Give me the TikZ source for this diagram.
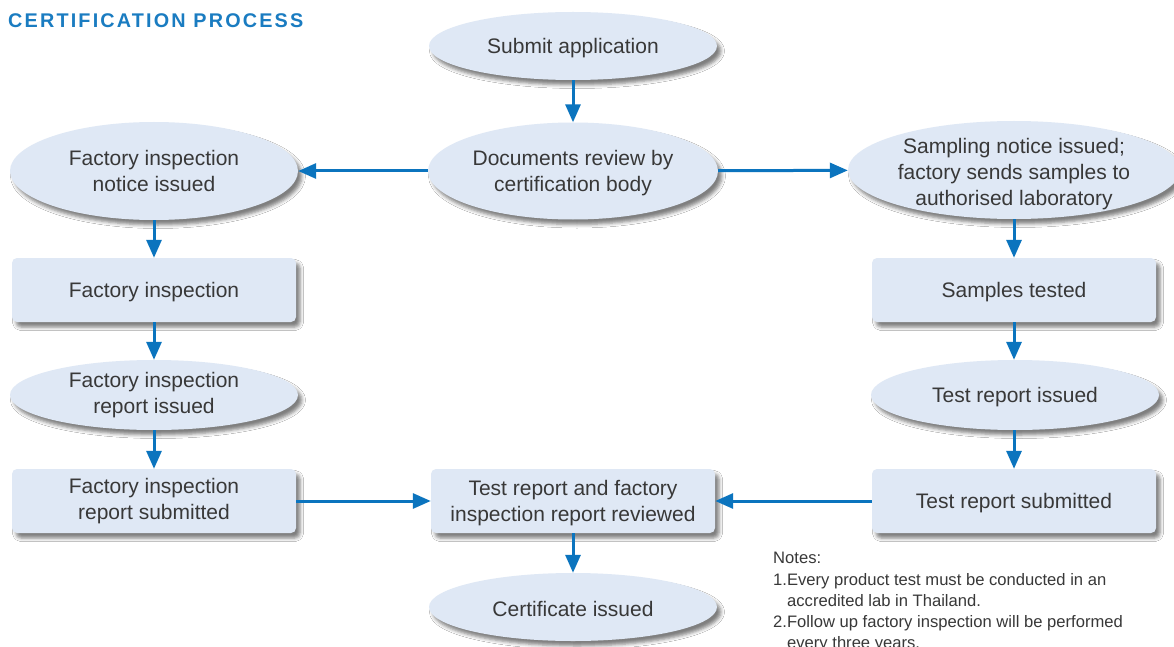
\documentclass[tikz,border=0pt]{standalone}
\usepackage{fontspec}
\setmainfont{Liberation Sans}
\usetikzlibrary{arrows.meta,shapes.geometric,shadows.blur}
\definecolor{boxfill}{HTML}{DFE8F5}
\definecolor{arrowblue}{HTML}{0B74BE}
\definecolor{titleblue}{HTML}{1A7CC1}
\definecolor{txt}{HTML}{383838}
\tikzset{
  shad/.style={blur shadow={shadow xshift=4pt,shadow yshift=-5pt,shadow blur radius=3.5pt,shadow opacity=50}},
  oval/.style={ellipse,fill=boxfill,shad,inner sep=0pt,minimum width=288pt,align=center,text=txt,font=\fontsize{21}{26}\selectfont,execute at begin node={\rule{0pt}{19.5pt}}},
  rbox/.style={rectangle,rounded corners=5pt,fill=boxfill,shad,inner sep=0pt,minimum width=284pt,minimum height=64pt,align=center,text=txt,font=\fontsize{21}{26}\selectfont,execute at begin node={\rule{0pt}{19.5pt}}},
  txtonly/.style={inner sep=0pt,align=center,text=txt,font=\fontsize{21}{26}\selectfont},
  arr/.style={draw=arrowblue,line width=3pt,-{Triangle[length=18pt,width=15pt]},arrowblue},
  note/.style={anchor=base west,inner sep=0pt,text=txt,font=\fontsize{16.6}{21}\selectfont},
}
\begin{document}
\begin{tikzpicture}[x=1pt,y=-1pt]
\clip (0,0) rectangle (1174,647);
\fill[white] (0,0) rectangle (1174,647);
\node[anchor=base west,inner sep=0pt,text=titleblue,font=\fontsize{19.8}{22}\selectfont\bfseries\addfontfeature{LetterSpace=11}] (title) at (8,27.5) {CERTIFICATION PROCESS};

\node[oval,minimum height=68pt] (sub) at (573,46) {Submit application};
\node[oval,minimum width=290pt,minimum height=97pt] (doc) at (573,171) {};
\node[txtonly] (doct) at ([yshift=-2pt]doc.center) {Documents review by\\certification body};
\node[oval,minimum height=98pt] (fin) at (154,171) {Factory inspection\\notice issued};
\node[oval,minimum width=332pt,minimum height=98pt] (san) at (1014,170) {};
\node[txtonly] (sant) at ([yshift=-4pt]san.center) {Sampling notice issued;\\factory sends samples to\\authorised laboratory};
\node[rbox] (fi) at (154,290) {Factory inspection};
\node[rbox] (st) at (1014,290) {Samples tested};
\node[oval,minimum height=70pt] (fir) at (154,395) {Factory inspection\\report issued};
\node[oval,minimum height=70pt] (tri) at (1015,395) {Test report issued};
\node[rbox] (fis) at (154,501) {Factory inspection\\report submitted};
\node[rbox] (trs) at (1014,501) {Test report submitted};
\node[rbox] (rev) at (573,501) {};
\node[txtonly] (revt) at ([yshift=-2.5pt]rev.center) {Test report and factory\\inspection report reviewed};
\node[oval,minimum height=68pt] (cert) at (573,607) {Certificate issued};

\draw[arr] (sub) -- (doc);
\draw[arr] (doc) -- (fin);
\draw[arr] (doc) -- (san);
\draw[arr] (fin) -- (fi);
\draw[arr] (fi) -- (fir);
\draw[arr] (fir) -- (fis);
\draw[arr] (san.south -| st.north) -- (st);
\draw[arr] (st) -- (tri.north -| st.north);
\draw[arr] (tri.south -| trs.north) -- (trs);
\draw[arr] (fis) -- (rev);
\draw[arr] (trs) -- (rev);
\draw[arr] (rev) -- (cert);

\node[note] (n0) at (773,563) {Notes:};
\node[note] (n1) at (773,585) {1.Every product test must be conducted in an};
\node[note] (n2) at (787,606) {accredited lab in Thailand.};
\node[note] (n3) at (773,627) {2.Follow up factory inspection will be performed};
\node[note] (n4) at (787,648) {every three years.};
\end{tikzpicture}
\end{document}
